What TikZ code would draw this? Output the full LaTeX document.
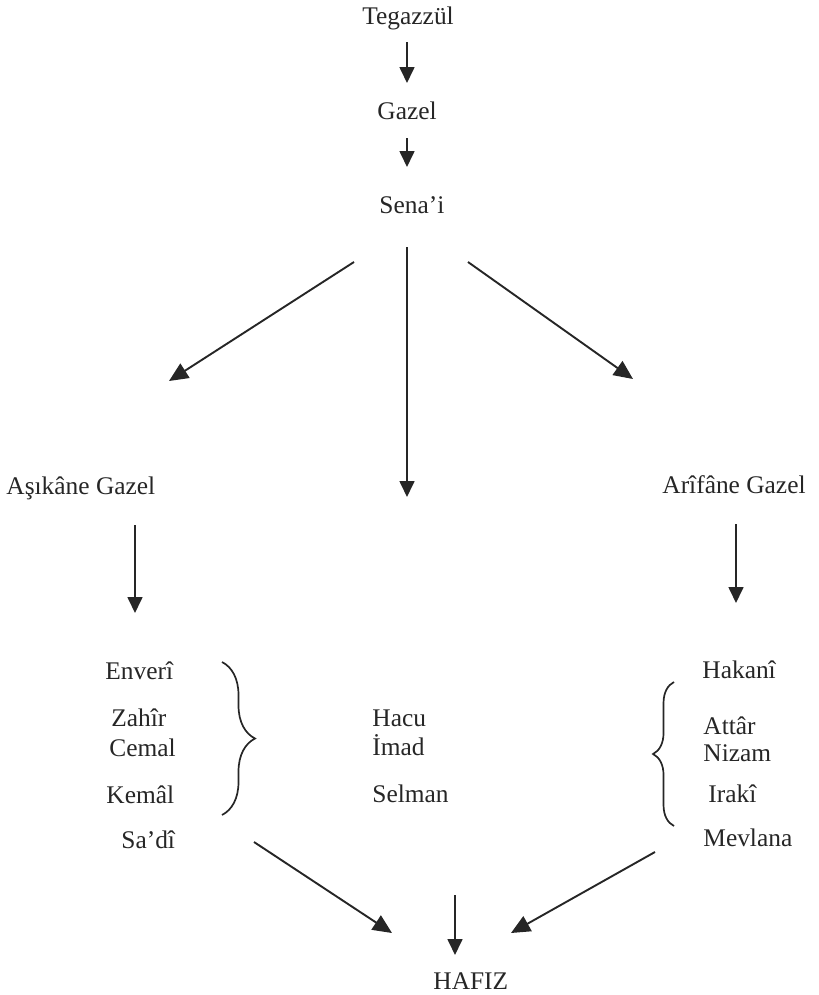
\documentclass[tikz,border=0pt]{standalone}
\usepackage{fontspec}
\setmainfont{Liberation Serif}
\usepackage{xcolor}
\usepackage{tikz}
\usetikzlibrary{arrows.meta,decorations.pathreplacing}
\definecolor{ink}{HTML}{262626}

\begin{document}
\begin{tikzpicture}[x=0.4724pt,y=-0.4724pt,
  word/.style={inner sep=0pt,anchor=base west,font=\fontsize{12}{14}\selectfont,text=ink},
  arr/.style={ink,line width=0.9pt,-{Triangle[length=7.5pt,width=7pt]}},
  bigarr/.style={ink,line width=0.9pt,-{Triangle[length=9pt,width=8pt]}},
  brc/.style={ink,line width=0.8pt,decorate,decoration={brace,amplitude=#1}}]
\useasboundingbox (0,0) rectangle (818,995);
\node[word] (teg) at (362,24) {Tegazzül};
\node[word] (gazel) at (377,119) {Gazel};
\node[word] (sena) at (379,213) {Sena’i};
\node[word] (asik) at (6,494) {Aşıkâne Gazel};
\node[word] (arif) at (662,493) {Arîfâne Gazel};
\node[word] (enveri) at (105,679) {Enverî};
\node[word] (zahir) at (111,726) {Zahîr};
\node[word] (cemal) at (109,756) {Cemal};
\node[word] (kemal) at (106,803) {Kemâl};
\node[word] (sadi) at (121,848) {Sa’dî};
\node[word] (hacu) at (372,726) {Hacu};
\node[word] (imad) at (372,755) {İmad};
\node[word] (selman) at (372,802) {Selman};
\node[word] (hakani) at (702,678) {Hakanî};
\node[word] (attar) at (703,734) {Attâr};
\node[word] (nizam) at (703,761) {Nizam};
\node[word] (iraki) at (708,802) {Irakî};
\node[word] (mevlana) at (703,846) {Mevlana};
\node[word] (hafiz) at (433,989) {HAFIZ};
\coordinate (t1) at (407,42); \coordinate (g0) at (407,83);
\coordinate (g1) at (407,138); \coordinate (s0) at (407,167);
\coordinate (sl) at (354,262); \coordinate (al) at (169,381);
\coordinate (sr) at (468,262); \coordinate (ar) at (633,379);
\coordinate (sm) at (407,247); \coordinate (mm) at (407,497);
\coordinate (al1) at (135,525); \coordinate (al2) at (135,613);
\coordinate (ar1) at (736,524); \coordinate (ar2) at (736,603);
\coordinate (hl1) at (254,842); \coordinate (hl2) at (392,933);
\coordinate (hr1) at (655,852); \coordinate (hr2) at (511,933);
\coordinate (hm1) at (455,895); \coordinate (hm2) at (455,955);
\draw[arr] (t1)--(g0); \draw[arr] (g1)--(s0);
\draw[bigarr] (sl)--(al); \draw[bigarr] (sr)--(ar); \draw[arr] (sm)--(mm);
\draw[arr] (al1)--(al2); \draw[arr] (ar1)--(ar2);
\draw[bigarr] (hl1)--(hl2); \draw[bigarr] (hr1)--(hr2); \draw[arr] (hm1)--(hm2);
\draw[brc=15.6pt] (222,662)--(222,815);
\draw[brc=9.9pt] (674,826)--(674,682);
\end{tikzpicture}
\end{document}
